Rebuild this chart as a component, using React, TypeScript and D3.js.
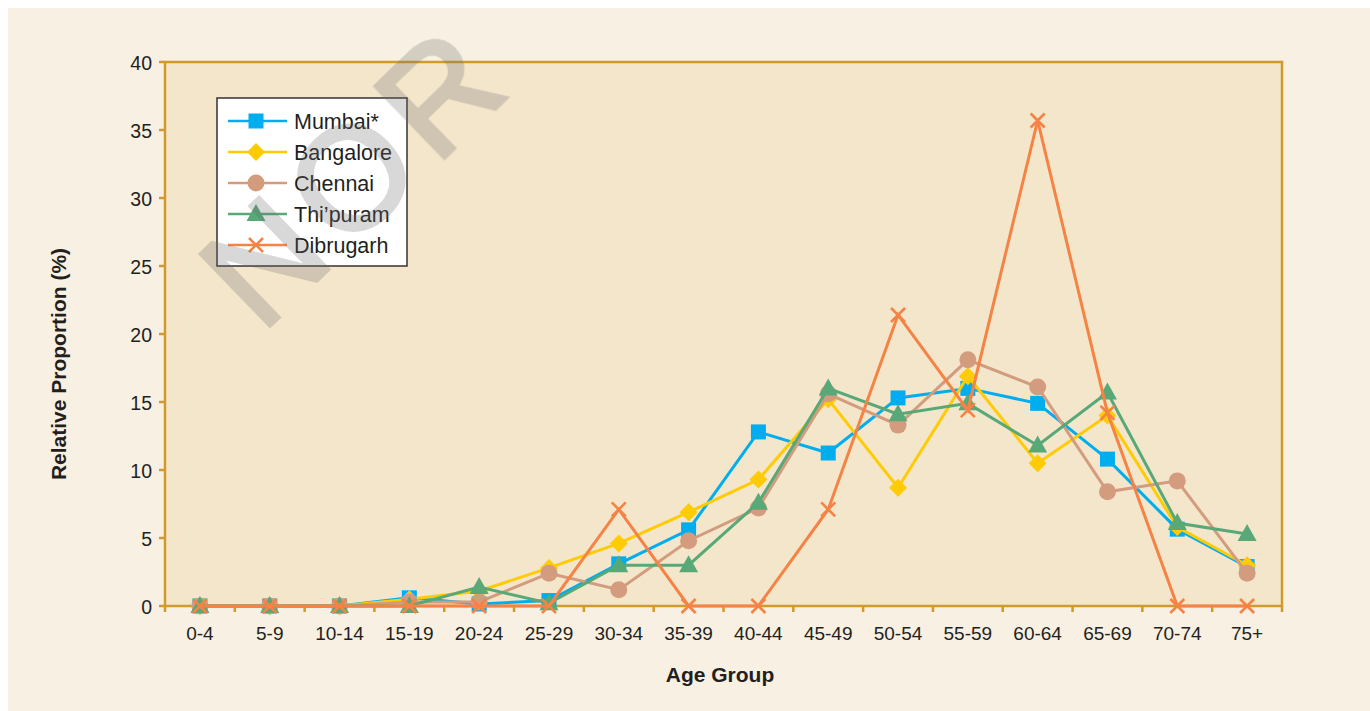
import React from "react";
import * as d3 from "d3";

const ageGroups = ["0-4","5-9","10-14","15-19","20-24","25-29","30-34","35-39","40-44","45-49","50-54","55-59","60-64","65-69","70-74","75+"];
const mumbai = [0,0,0,0.6,0.15,0.4,3.1,5.6,12.8,11.25,15.3,16.0,14.9,10.8,5.65,2.9];
const bangalore = [0,0,0,0.5,1.1,2.8,4.6,6.9,9.3,15.2,8.7,16.9,10.5,14.0,5.8,3.0];
const chennai = [0,0,0,0.3,0.3,2.4,1.2,4.8,7.2,15.6,13.3,18.1,16.1,8.4,9.2,2.4];
const thiruvananthapuram = [0,0,0,0,1.4,0.2,3.0,3.0,7.6,16.0,14.1,14.9,11.8,15.7,6.1,5.3];
const dibrugarh = [0,0,0,0,0,0,7.1,0,0,7.1,21.4,14.4,35.7,14.2,0,0];
const yTicks = [0,5,10,15,20,25,30,35,40];
const seriesNames = ["Mumbai*","Bangalore","Chennai","Thi\u2019puram","Dibrugarh"];
const watermarkLetters = ["N","O","R"];

const colors = ["#00aeef","#ffcb05","#d39c7e","#58a878","#f58345"];
const markerTypes = ["square","diamond","circle","triangle","cross"];
const seriesValues = [mumbai, bangalore, chennai, thiruvananthapuram, dibrugarh];

const W = 1370, H = 711;
const M = { left: 165, right: 1282, top: 62, bottom: 606 };
const axisColor = "#d09b2c";
const textColor = "#231f20";

function Marker({ type, x, y, color }: { type: string; x: number; y: number; color: string }) {
  if (type === "square") return <rect x={x - 7.5} y={y - 7.5} width={15} height={15} fill={color} />;
  if (type === "diamond") return <path d={`M${x},${y - 9}L${x + 9},${y}L${x},${y + 9}L${x - 9},${y}Z`} fill={color} />;
  if (type === "circle") return <circle cx={x} cy={y} r={8.5} fill={color} />;
  if (type === "triangle") return <path d={`M${x},${y - 10}L${x + 9.5},${y + 7}L${x - 9.5},${y + 7}Z`} fill={color} />;
  return (
    <path d={`M${x - 7},${y - 7}L${x + 7},${y + 7}M${x - 7},${y + 7}L${x + 7},${y - 7}`} stroke={color} strokeWidth={2.6} fill="none" />
  );
}

export default function App() {
  const x = d3.scaleBand<string>().domain(ageGroups).range([M.left, M.right]);
  const y = d3.scaleLinear().domain([0, 40]).range([M.bottom, M.top]);
  const cx = (g: string) => (x(g) as number) + x.bandwidth() / 2;
  const line = d3.line<number>().x((_, i) => cx(ageGroups[i])).y((d) => y(d));
  const font = "'Liberation Sans', Arial, Helvetica, sans-serif";

  const wmAngle = -44;
  const wmStep = 121;
  const wmC = { x: 350, y: 176 };
  const rad = (wmAngle * Math.PI) / 180;

  return (
    <svg width={W} height={H} style={{ position: "fixed", left: 0, top: 0 }} fontFamily={font}>
      <rect x={0} y={0} width={W} height={H} fill="#ffffff" />
      <rect x={8} y={8} width={W - 8} height={H - 8} fill="#f8f0e2" />
      <rect x={M.left} y={M.top} width={M.right - M.left} height={M.bottom - M.top} fill="#f4e6cb" />
      <rect x={M.left} y={M.top} width={M.right - M.left} height={M.bottom - M.top} fill="none" stroke={axisColor} strokeWidth={2.5} />
      {yTicks.map((t) => (
        <g key={"y" + t}>
          <line x1={M.left - 6} x2={M.left} y1={y(t)} y2={y(t)} stroke={axisColor} strokeWidth={2.5} />
          <text x={152} y={y(t) + 1.5} dy="0.35em" textAnchor="end" fontSize={19.5} fill={textColor}>{t}</text>
        </g>
      ))}
      {ageGroups.map((g) => (
        <line key={"xt" + g} x1={x(g) as number} x2={x(g) as number} y1={M.bottom} y2={M.bottom + 6} stroke={axisColor} strokeWidth={2.5} />
      ))}
      <line x1={M.right} x2={M.right} y1={M.bottom} y2={M.bottom + 6} stroke={axisColor} strokeWidth={2.5} />
      {ageGroups.map((g) => (
        <text key={"xl" + g} x={cx(g)} y={640} textAnchor="middle" fontSize={19} fill={textColor}>{g}</text>
      ))}
      <text transform={`translate(66,364) rotate(-90)`} textAnchor="middle" fontSize={21} fontWeight="bold" fill={textColor}>Relative Proportion (%)</text>
      <text x={720} y={682} textAnchor="middle" fontSize={21} fontWeight="bold" fill={textColor}>Age Group</text>

      {seriesValues.map((vals, si) => (
        <g key={"s" + si}>
          <path d={line(vals) || ""} fill="none" stroke={colors[si]} strokeWidth={3} />
          {vals.map((v, i) => (
            <Marker key={i} type={markerTypes[si]} x={cx(ageGroups[i])} y={y(v)} color={colors[si]} />
          ))}
        </g>
      ))}

      <rect x={217} y={98} width={190} height={168} fill="#ffffff" stroke="#333" strokeWidth={1.5} />
      {seriesNames.map((n, i) => {
        const ly = 121 + i * 31;
        return (
          <g key={"lg" + i}>
            <line x1={228} x2={287} y1={ly} y2={ly} stroke={colors[i]} strokeWidth={2.5} />
            <Marker type={markerTypes[i]} x={256} y={ly} color={colors[i]} />
            <text x={294} y={ly} dy="0.36em" fontSize={21.5} fill={textColor}>{n}</text>
          </g>
        );
      })}

      <g opacity={0.27}>
        {watermarkLetters.map((l, i) => {
          const k = i - 1;
          const px = wmC.x + Math.cos(rad) * wmStep * k;
          const py = wmC.y + Math.sin(rad) * wmStep * k;
          return (
            <text key={"wm" + i} transform={`translate(${px},${py}) rotate(${wmAngle})`} textAnchor="middle" dy="0.36em" fontSize={145} fontWeight="normal" fill="#6f6f6f" stroke="#6f6f6f" strokeWidth={4}>{l}</text>
          );
        })}
      </g>
    </svg>
  );
}
